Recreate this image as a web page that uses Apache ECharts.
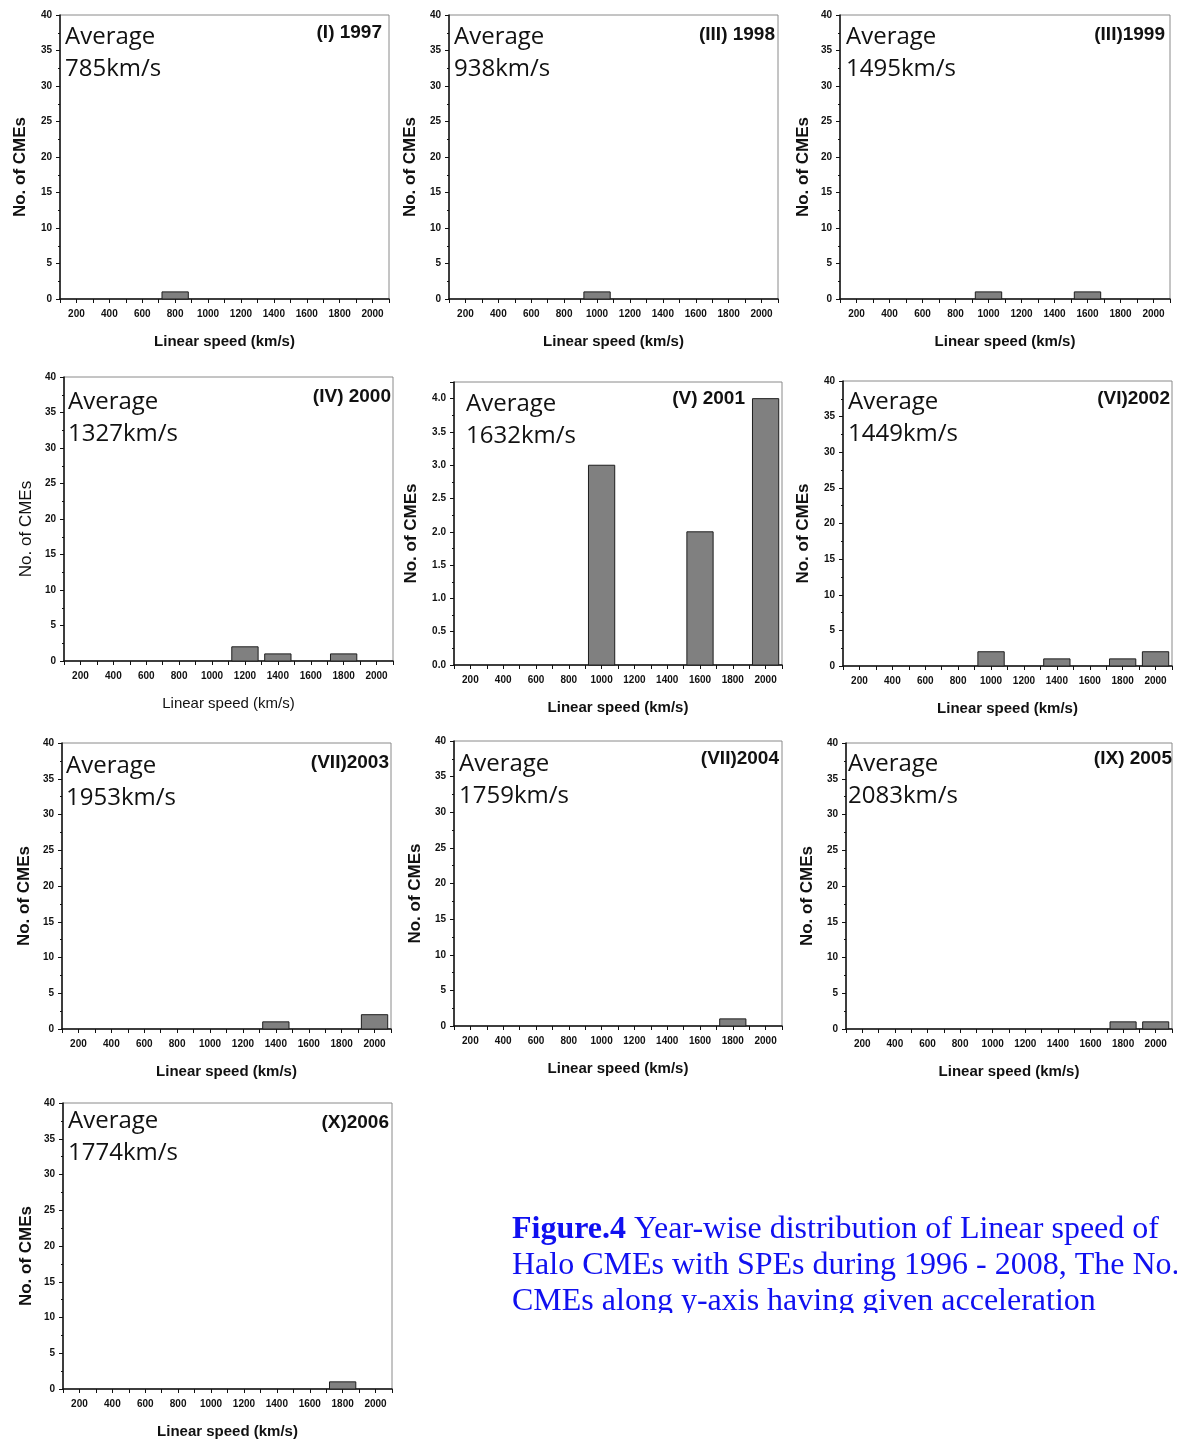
<!DOCTYPE html>
<html>
<head>
<meta charset="utf-8">
<title>Year-wise distribution of Linear speed of Halo CMEs</title>
<script src="https://cdn.jsdelivr.net/npm/echarts@6/dist/echarts.min.js"></script>
<style>
  html, body { margin: 0; padding: 0; background: #ffffff; }
  #chart { width: 1177px; height: 1441px; }
</style>
</head>
<body>
<div id="chart"></div>
<script>
// ---- data -------------------------------------------------------------
// Centres of the 200 km/s speed bins
const speedBins = [200, 400, 600, 800, 1000, 1200, 1400, 1600, 1800, 2000];

// Number of halo CMEs (with SPEs) per speed bin, one list per year
const counts1997 = [0, 0, 0, 1, 0, 0, 0, 0, 0, 0];
const counts1998 = [0, 0, 0, 0, 1, 0, 0, 0, 0, 0];
const counts1999 = [0, 0, 0, 0, 1, 0, 0, 1, 0, 0];
const counts2000 = [0, 0, 0, 0, 0, 2, 1, 0, 1, 0];
const counts2001 = [0, 0, 0, 0, 3, 0, 0, 2, 0, 4];
const counts2002 = [0, 0, 0, 0, 2, 0, 1, 0, 1, 2];
const counts2003 = [0, 0, 0, 0, 0, 0, 1, 0, 0, 2];
const counts2004 = [0, 0, 0, 0, 0, 0, 0, 0, 1, 0];
const counts2005 = [0, 0, 0, 0, 0, 0, 0, 0, 1, 1];
const counts2006 = [0, 0, 0, 0, 0, 0, 0, 0, 1, 0];

const panelTitles = ['(I) 1997', '(III) 1998', '(III)1999', '(IV) 2000', '(V) 2001',
                     '(VI)2002', '(VII)2003', '(VII)2004', '(IX) 2005', '(X)2006'];
const averageSpeeds = [785, 938, 1495, 1327, 1632, 1449, 1953, 1759, 2083, 1774];
const yearCounts = [counts1997, counts1998, counts1999, counts2000, counts2001,
                    counts2002, counts2003, counts2004, counts2005, counts2006];

// y-axis top value and tick step per panel (2001 uses its own scale)
const countMax  = [40, 40, 40, 40, 4.25, 40, 40, 40, 40, 40];
const countStep = [5, 5, 5, 5, 0.5, 5, 5, 5, 5, 5];

const speedAxisName = 'Linear speed (km/s)';
const countAxisName = 'No. of CMEs';
const captionHead = 'Figure.4';
const captionLines = [
  ' Year-wise distribution of Linear speed of',
  'Halo CMEs with SPEs during 1996 - 2008, The No.',
  'CMEs along y-axis having given acceleration'
];

// ---- layout -------------------------------------------------------------
// [left, top, right, bottom, avgDx, avgDy, titleDx, titleDy, yNameGap, nameWeight]
const panelLayout = [
  [60, 15, 389, 299, 5, 6, -7, 18, 31, 'bold'],
  [449, 15, 778, 299, 5, 6, -3, 20, 30, 'bold'],
  [840, 15, 1170, 299, 6, 6, -5, 20, 28, 'bold'],
  [64, 377, 393, 661, 4, 9, -2, 20, 29, 'normal'],
  [454, 382, 782, 665, 12, 6, -37, 17, 34, 'bold'],
  [843, 381, 1172, 666, 5, 5, -2, 18, 31, 'bold'],
  [62, 743, 391, 1029, 4, 7, -2, 20, 29, 'bold'],
  [454, 741, 782, 1026, 5, 7, -3, 18, 30, 'bold'],
  [846, 743, 1172, 1029, 2, 5, 0, 16, 30, 'bold'],
  [63, 1103, 392, 1389, 5, 2, -3, 20, 28, 'bold']
];

const BIN_HALF = 80;          // bars fill 160 of each 200 km/s bin
const AXIS_FONT = 'Liberation Sans, Arial, sans-serif';

function renderBin(params, api) {
  const v = api.value(1);
  if (!v) return null;
  const c = api.value(0);
  const p0 = api.coord([c - BIN_HALF, 0]);
  const p1 = api.coord([c + BIN_HALF, v]);
  return {
    type: 'rect',
    shape: { x: p0[0], y: p1[1], width: p1[0] - p0[0], height: p0[1] - p1[1] },
    style: { fill: '#808080', stroke: '#1e1e1e', lineWidth: 1 }
  };
}

const grids = [], xAxes = [], yAxes = [], series = [], graphics = [];

panelLayout.forEach((L, i) => {
  const [left, top, right, bottom, avgDx, avgDy, titleDx, titleDy, yGap, weight] = L;
  grids.push({
    left: left, top: top, width: right - left, height: bottom - top,
    show: true, borderColor: '#8a8a8a', borderWidth: 1, backgroundColor: 'transparent'
  });

  xAxes.push({
    type: 'value', gridIndex: i, min: 100, max: 2100, interval: 100,
    axisLine: { show: true, onZero: false, lineStyle: { color: '#111', width: 1.5 } },
    axisTick: { show: true, inside: false, length: 4, lineStyle: { color: '#111', width: 1 } },
    axisLabel: {
      margin: 10, fontSize: 10, fontWeight: 'bold', color: '#111', fontFamily: AXIS_FONT,
      formatter: v => (v % 200 === 0 && v >= 200 && v <= 2000) ? String(v) : ''
    },
    splitLine: { show: false },
    name: speedAxisName, nameLocation: 'middle', nameGap: 35,
    nameTextStyle: { fontSize: 15, fontWeight: weight, color: '#111', fontFamily: AXIS_FONT }
  });

  const step = countStep[i];
  yAxes.push({
    type: 'value', gridIndex: i, min: 0, max: countMax[i], interval: step,
    axisLine: { show: true, onZero: false, lineStyle: { color: '#111', width: 1.5 } },
    axisTick: { show: true, inside: false, length: 4, lineStyle: { color: '#111', width: 1 } },
    minorTick: { show: true, splitNumber: 2, length: 2, lineStyle: { color: '#111', width: 1 } },
    axisLabel: {
      margin: 8, fontSize: 10, fontWeight: 'bold', color: '#111', fontFamily: AXIS_FONT,
      showMaxLabel: countMax[i] % step === 0,
      formatter: v => step < 1 ? v.toFixed(1) : String(v)
    },
    splitLine: { show: false },
    name: countAxisName, nameLocation: 'middle', nameGap: yGap,
    nameTextStyle: {
      fontSize: 17, fontWeight: weight, color: '#111', fontFamily: AXIS_FONT,
      padding: [0, 20, 0, 0]
    }
  });

  series.push({
    type: 'custom', xAxisIndex: i, yAxisIndex: i,
    renderItem: renderBin, clip: false,
    data: speedBins.map((s, k) => [s, yearCounts[i][k]])
  });

  graphics.push({
    type: 'text', left: left + avgDx, top: top + avgDy, z: 10,
    style: {
      text: 'Average\n' + averageSpeeds[i] + 'km/s',
      font: '24px "Open Sans", "Noto Sans", sans-serif',
      lineHeight: 32, fill: '#111'
    }
  });
  graphics.push({
    type: 'text', right: 1177 - (right + titleDx), top: top + titleDy - 10, z: 10,
    style: {
      text: panelTitles[i], font: 'bold 19px ' + AXIS_FONT, fill: '#111'
    }
  });
});

// figure caption
graphics.push({
  type: 'text', left: 512, top: 1212, z: 10,
  style: {
    text: '{b|' + captionHead + '}' + captionLines[0] + '\n' + captionLines[1] + '\n' + captionLines[2],
    font: '32px "Liberation Serif", "Times New Roman", serif',
    lineHeight: 36, fill: '#1010f0',
    rich: { b: { fontWeight: 'bold', fontSize: 32, fontFamily: 'Liberation Serif', fill: '#1010f0', lineHeight: 36 } }
  }
});
// the caption box ends just under the third line
graphics.push({
  type: 'rect', left: 500, top: 1313, z: 20,
  shape: { width: 677, height: 60 },
  style: { fill: '#ffffff' }
});

const chart = echarts.init(document.getElementById('chart'), null, { renderer: 'canvas' });
chart.setOption({
  animation: false,
  backgroundColor: '#ffffff',
  grid: grids,
  xAxis: xAxes,
  yAxis: yAxes,
  series: series,
  graphic: graphics
});
</script>
</body>
</html>
